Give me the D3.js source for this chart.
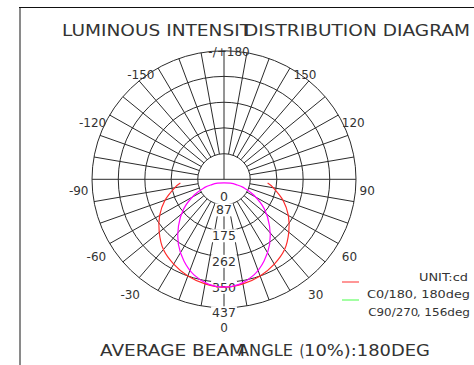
<!DOCTYPE html>
<html>
<head>
<meta charset="utf-8">
<script src="https://cdn.jsdelivr.net/npm/d3@7"></script>
<style>
  html, body { margin: 0; padding: 0; background: #fff; }
  svg { display: block; }
  text { font-family: "DejaVu Sans", Verdana, sans-serif; fill: #333; }
</style>
</head>
<body>
<svg id="chart" width="474" height="365"></svg>
<script>
// Intensity rings (cd) and their printed labels
const ringValues = [87, 175, 262, 350, 437];
const ringLabels = ["0", "87", "175", "262", "350", "437"];
const ringLabelValues = [0, 87, 175, 262, 350, 437];

// Angle labels around the rim (degrees, 0 = straight down)
const angleTicks = [-150, -120, -90, -60, -30, 0, 30, 60, 90, 120, 150, 180];
const angleTickLabels = ["-150", "-120", "-90", "-60", "-30", "0", "30", "60", "90", "120", "150", "-/+180"];

// C0/180 plane: gamma angle (deg) and intensity (cd)
const c0Angles = [-85, -80, -70, -60, -50, -40, -30, -20, -10, 0, 10, 20, 30, 40, 50, 60, 70, 80, 85];
const c0Values = [145, 166, 208, 246, 280, 312, 333, 350, 361, 367, 361, 350, 333, 312, 280, 246, 208, 166, 145];

// C90/270 plane, traced as a closed loop (gamma angle in deg, intensity in cd)
const c90Angles = [0, -58, -66, -66.5, -61.5, -53, -43.5, -34.5, -25.5, -17, -8, 0,
                   8, 17, 25.5, 34.5, 43.5, 53, 61.5, 66.5, 66, 58];
const c90Values = [12, 25, 44, 71, 112, 167, 219, 267, 308, 340, 361, 367,
                   361, 340, 308, 267, 219, 167, 112, 71, 44, 25];

const seriesNames = ["C0/180, 180deg", "C90/270", ", 156deg"];
const unitLabel = "UNIT:cd";
const titleParts = ["LUMINOUS INTENSIT", "DISTRIBUTION DIAGRAM"];
const footerParts = ["AVERAGE BEAM", "ANGLE", "(", "10%):180DEG"];

const svg = d3.select("#chart");
const cx = 224, cy = 179.3;
const maxV = 437;

// Radial scales (horizontal / vertical radius of the polar grid)
const rX = d3.scaleLinear().domain([0, maxV]).range([0, 132]);
const rY = d3.scaleLinear().domain([0, maxV]).range([0, 128.5]);
const rad = d => d * Math.PI / 180;
const pt = (deg, v) => [cx + rX(v) * Math.sin(rad(deg)), cy + rY(v) * Math.cos(rad(deg))];

// Stretched text helper: start x, end x, baseline
function stretchText(g, str, x0, x1, y) {
  return g.append("text").attr("x", x0).attr("y", y)
    .attr("textLength", x1 - x0).attr("lengthAdjust", "spacingAndGlyphs").text(str);
}

// Frame lines
svg.append("line").attr("x1", 20).attr("y1", 7.5).attr("x2", 20).attr("y2", 365)
  .attr("stroke", "#8a8a8a").attr("stroke-width", 2);
svg.append("line").attr("x1", 19).attr("y1", 7.5).attr("x2", 474).attr("y2", 7.5)
  .attr("stroke", "#111").attr("stroke-width", 1);

// Title
const title = svg.append("g").attr("font-size", 15.5);
stretchText(title, titleParts[0], 62, 251, 36);
stretchText(title, titleParts[1], 244, 470, 36);

// Grid
const grid = svg.append("g").attr("fill", "none").attr("stroke", "#2b2b2b").attr("stroke-width", 1);
grid.selectAll("ellipse").data(ringValues).join("ellipse")
  .attr("cx", cx).attr("cy", cy)
  .attr("rx", d => rX(d)).attr("ry", d => rY(d));

const spokeAngles = d3.range(-170, 181, 10).filter(a => a % 90 !== 0);
grid.selectAll("line.spoke").data(spokeAngles).join("line").attr("class", "spoke")
  .attr("x1", d => pt(d, ringValues[0])[0]).attr("y1", d => pt(d, ringValues[0])[1])
  .attr("x2", d => pt(d, maxV)[0]).attr("y2", d => pt(d, maxV)[1]);
// main axes
grid.append("line").attr("x1", pt(-90, maxV)[0]).attr("y1", cy).attr("x2", pt(90, maxV)[0]).attr("y2", cy);
grid.append("line").attr("x1", cx).attr("y1", pt(180, maxV)[1]).attr("x2", cx).attr("y2", cy);
grid.append("line").attr("x1", cx).attr("y1", pt(0, ringValues[0])[1]).attr("x2", cx).attr("y2", pt(0, maxV)[1]);

// Ring value labels along the 0° axis, on white boxes
const ringLab = svg.append("g").attr("font-size", 12.5).attr("text-anchor", "middle");
ringLabelValues.forEach((v, i) => {
  const y = Math.max(cy + rY(v) + 5, cy + 16.7);
  const t = ringLab.append("text").attr("x", cx).attr("y", y).attr("dy", "0.36em").text(ringLabels[i]);
  const bb = t.node().getBBox();
  ringLab.insert("rect", "text").attr("x", bb.x - 1).attr("y", bb.y + 1).attr("width", bb.width + 2)
    .attr("height", bb.height - 2).attr("fill", "#fff");
});

// Angle labels: anchored just outside the rim, pushed down a little
const angLab = svg.append("g").attr("font-size", 12);
const dropBy = { 0: 19.5, 30: 4.4, 60: 13.5, 90: 11.5, 120: 7.7, 150: 6.5, 180: 1 };
angleTicks.forEach((a, i) => {
  const [px, py] = pt(a, maxV);
  const abs = Math.abs(a);
  const side = (abs === 0 || abs === 180) ? 0 : Math.sign(a);
  const gap = abs === 30 ? 18 : 3.5;
  angLab.append("text")
    .attr("x", px + side * gap + (abs === 180 ? 5 : 0))
    .attr("y", py + dropBy[abs])
    .attr("dy", "0.36em")
    .attr("text-anchor", side > 0 ? "start" : side < 0 ? "end" : "middle")
    .text(angleTickLabels[i]);
});

// Intensity curves
const line = d3.line().curve(d3.curveCardinal.tension(0.1));
const lineClosed = d3.line().curve(d3.curveCardinalClosed.tension(0));
svg.append("path")
  .attr("d", line(c0Angles.map((a, i) => pt(a, c0Values[i]))))
  .attr("fill", "none").attr("stroke", "#ff2a2a").attr("stroke-width", 1.2);
svg.append("path")
  .attr("d", lineClosed(c90Angles.map((a, i) => pt(a, c90Values[i]))))
  .attr("fill", "none").attr("stroke", "#ff00ff").attr("stroke-width", 1.2);

// Legend
const leg = svg.append("g").attr("font-size", 11);
stretchText(leg, unitLabel, 419, 468, 281);
leg.append("line").attr("x1", 342).attr("x2", 359).attr("y1", 282).attr("y2", 282)
  .attr("stroke", "#ff5050").attr("stroke-width", 1.2);
leg.append("line").attr("x1", 342).attr("x2", 359).attr("y1", 300).attr("y2", 300)
  .attr("stroke", "#66ff66").attr("stroke-width", 1.2);
stretchText(leg, seriesNames[0], 367, 470, 297.5);
stretchText(leg, seriesNames[1], 368.3, 418.3, 316);
stretchText(leg, seriesNames[2], 416.7, 470, 316);

// Footer
const foot = svg.append("g").attr("font-size", 15);
stretchText(foot, footerParts[0], 100, 245, 356);
stretchText(foot, footerParts[1], 238, 293, 356);
stretchText(foot, footerParts[2], 299.5, 304.5, 356);
stretchText(foot, footerParts[3], 304, 430, 356);
</script>
</body>
</html>
